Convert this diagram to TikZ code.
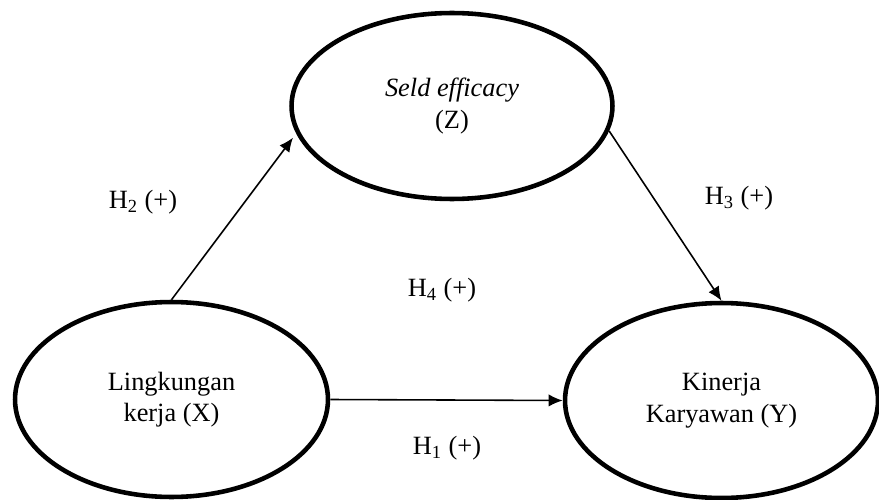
\documentclass[tikz,border=0pt]{standalone}
\usepackage{fontspec}
\setmainfont{Liberation Serif}
\usepackage{tikz}
\usetikzlibrary{arrows.meta,shapes.geometric,positioning}
\tikzset{>={Latex[length=8pt,width=7pt]}}
\tikzset{var/.style={ellipse,draw,line width=2.6pt,align=center,inner sep=0pt}}
\begin{document}
\begin{tikzpicture}[x=0.02cm,y=-0.02cm,font=\fontsize{15}{18}\selectfont]
				\useasboundingbox (0,0) rectangle (879,500);
				\draw (452,106) node (nz) [var,minimum width=6.42cm,minimum height=3.72cm] {\textit{Seld efficacy}\\(Z)};
				\draw (171.5,399.5) node (nx) [var,minimum width=6.26cm,minimum height=3.9cm] {Lingkungan\\kerja (X)};
				\draw (721.5,400.5) node (ny) [var,minimum width=6.26cm,minimum height=3.9cm] {Kinerja\\Karyawan (Y)};
				\draw [->,line width=0.9pt,shorten >=3pt] (nx.north) -- (nz.190);
				\draw [->,line width=0.9pt] (nz.351) -- (ny.north);
				\draw [->,line width=0.9pt] (nx.east) -- (ny.west);

				\draw (143,202) node (h2) {H\textsubscript{2} (+)};
				\draw (739,198) node (h3) {H\textsubscript{3} (+)};
				\draw (442,290) node (h4) {H\textsubscript{4} (+)};
				\draw (447,448) node (h1) {H\textsubscript{1} (+)};
			\end{tikzpicture}
\end{document}
